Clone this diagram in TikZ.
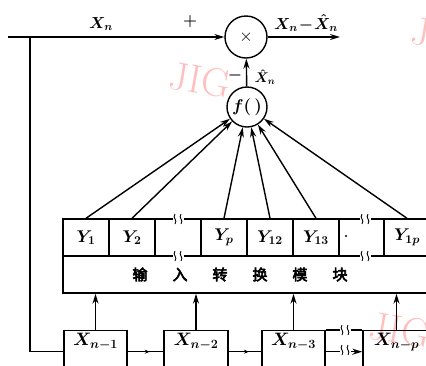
\RequirePackage{fix-cm}
\documentclass[tikz,border=0pt]{standalone}
\usepackage{fontspec}
\newfontfamily\cjk{Noto Sans CJK SC}[AutoFakeBold=4]
\usetikzlibrary{arrows.meta,decorations.markings}
\newcommand\mybrk[2]{%
  \fill[white] (#1-5.5,#2-2.5) rectangle (#1+5.5,#2+2.5);
  \draw[line width=0.9pt] (#1-3,#2-5) .. controls (#1-6,#2-1) and (#1,#2+1) .. (#1-3,#2+5);
  \draw[line width=0.9pt] (#1+3,#2-5) .. controls (#1,#2-1) and (#1+6,#2+1) .. (#1+3,#2+5);
}
\begin{document}
\begin{tikzpicture}[x=1pt,y=-1pt,line width=1.4pt,
  >={Stealth[length=10pt,width=6pt]},
  cell/.style={draw,minimum width=46pt,minimum height=37pt,inner sep=0pt,font=\fontsize{17}{17}\selectfont\boldmath},
  xbox/.style={draw,anchor=north,minimum width=63pt,inner sep=0pt,text height=15pt,text depth=27pt,font=\fontsize{18}{18}\selectfont\boldmath},
  circ/.style={draw,circle,inner sep=0pt},
  lbl/.style={inner sep=0pt,font=\fontsize{16}{16}\selectfont\boldmath},
  wm/.style={text=red!25,font=\fontsize{40}{40}\selectfont,inner sep=0pt},
  midarrow/.style={postaction={decorate},decoration={markings,mark=at position 0.62 with {\arrow{Stealth[length=5pt,width=4pt]}}}}]
\useasboundingbox (0,0) rectangle (426,365);
\begin{scope}
\clip (0,0) rectangle (426,365);
% watermarks
\node[wm,rotate=-10] (wm1) at (200,80) {JIG};
\node[wm,anchor=west,rotate=-10] (wm2) at (411,30) {JIG};
\node[wm,rotate=-10] (wm3) at (400,330) {JIG};
% circles
\node[circ,minimum size=42pt,font=\LARGE] (mul) at (246,37) {$\times$};
\node[circ,minimum size=40pt,font=\fontsize{17}{17}\selectfont\boldmath] (f) at (247,107) {$f(\,)$};
% Y row
\node[cell] (y1) at (86,237.5) {$Y_1$};
\node[cell] (y2) at (132,237.5) {$Y_2$};
\node[cell] (yg1) at (178,237.5) {};
\node[cell] (yp) at (224,237.5) {$Y_p$};
\node[cell] (y12) at (270,237.5) {$Y_{12}$};
\node[cell] (y13) at (316,237.5) {$Y_{13}$};
\node[cell,minimum width=45pt] (yg2) at (361.5,237.5) {};
\node[cell] (y1p) at (407,237.5) {$Y_{1p}$};
% module
\node[draw,minimum width=367pt,minimum height=37pt,inner sep=0pt] (mod) at (246.5,274.5) {};
\node[inner sep=0pt,font=\cjk\bfseries\fontsize{15}{15}\selectfont] (modtxt) at (240,274.5) {输\hspace{25pt}入\hspace{25pt}转\hspace{25pt}换\hspace{25pt}模\hspace{25pt}块};
\fill (346,236) circle (1.2pt);
\mybrk{178}{219}
\mybrk{178}{256}
\mybrk{365}{219}
\mybrk{365}{256}
% X boxes
\node[xbox] (x1) at (95.5,330) {$X_{n-1}$};
\node[xbox,minimum width=64pt] (x2) at (196,330) {$X_{n-2}$};
\node[xbox] (x3) at (293.5,330) {$X_{n-3}$};
\node[xbox,minimum width=67pt] (xp) at (396.5,330) {$X_{n-p}$};
\draw (x3.north east) -- (xp.north west);
\mybrk{345}{330}
\draw[midarrow] (x1.east) -- (x2.west);
\draw[midarrow] (x2.east) -- (x3.west);
\draw[->] (x3.east) -- (xp.west);
\mybrk{345}{350}
\foreach \n in {x1,x2,x3,xp} \draw[->] (\n.north) -- (\n.north |- mod.south);
% arrows to f
\foreach \n in {y1,y2,yp,y12,y13,y1p} \draw[->] (\n.north) -- (f);
% main lines
\coordinate (in) at (8,37);
\coordinate (j) at (30,37);
\coordinate (out) at (340,37);
\draw[->] (in) -- (mul);
\draw (j) |- (x1.west);
\draw[->] (mul) -- (out);
\draw[->] (f) -- (mul);
% labels
\node[lbl] (lxn) at (101,24) {$X_n$};
\node[lbl] (lplus) at (190,21) {$+$};
\node[lbl] (lout) at (306,23) {$X_n\!-\!\hat{X}_n$};
\node[lbl] (lminus) at (235,75) {$-$};
\node[lbl,font=\fontsize{14}{14}\selectfont\boldmath] (lhat) at (265,77) {$\hat{X}_n$};
\end{scope}
\end{tikzpicture}
\end{document}
